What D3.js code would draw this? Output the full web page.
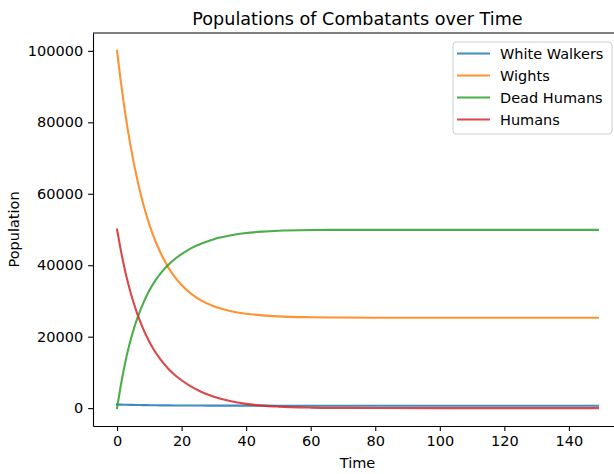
<!DOCTYPE html>
<html>
<head>
<meta charset="utf-8">
<script src="https://cdn.jsdelivr.net/npm/d3@7"></script>
<style>
  body { margin: 0; background: #fff; }
  text { font-family: "DejaVu Sans", sans-serif; fill: #000; }
  .tick text { font-size: 14.5px; }
  .tick line, .domain { stroke: #000; stroke-width: 1.1; }
</style>
</head>
<body>
<div id="chart"></div>
<script>
// Chart values
var times = [0, 1, 2, 3, 4, 5, 6, 7, 8, 9, 10, 12, 14, 16, 18, 20, 23, 26, 30, 35, 40, 45, 50, 60, 70, 80, 100, 120, 149];
var whiteWalkers = [1000, 980, 960, 940, 920, 900, 885, 870, 855, 840, 825, 800, 780, 765, 750, 740, 730, 720, 710, 700, 695, 690, 688, 685, 683, 682, 680, 680, 680];
var wights = [100000, 92550, 85850, 79800, 74400, 69500, 65100, 61100, 57550, 54350, 51450, 46500, 42500, 39200, 36600, 34450, 31980, 30170, 28500, 27200, 26420, 25970, 25690, 25440, 25350, 25320, 25300, 25300, 25300];
var deadHumans = [0, 5500, 10400, 14700, 18400, 21600, 24400, 26900, 29100, 31100, 32900, 35900, 38300, 40200, 41800, 43100, 44800, 46000, 47300, 48300, 49000, 49400, 49650, 49850, 49900, 49900, 49900, 49900, 49900];
var humans = [50000, 45000, 40500, 36500, 33000, 29900, 27100, 24600, 22400, 20400, 18600, 15500, 13000, 10900, 9200, 7800, 6000, 4600, 3200, 2000, 1200, 700, 420, 150, 60, 25, 5, 1, 0];

var seriesNames = ["White Walkers", "Wights", "Dead Humans", "Humans"];
var seriesColors = ["#1f77b4", "#ff7f0e", "#2ca02c", "#d62728"];
var seriesValues = [whiteWalkers, wights, deadHumans, humans];

var xTicks = [0, 20, 40, 60, 80, 100, 120, 140];
var yTicks = [0, 20000, 40000, 60000, 80000, 100000];

var svgWidth = 614;
var svgHeight = 474;
var margin = {top: 33, right: -8, bottom: 48, left: 93};
var width = svgWidth - margin.left - margin.right;
var height = svgHeight - margin.top - margin.bottom;

var svg = d3.select("#chart")
  .append("svg")
  .attr("width", svgWidth)
  .attr("height", svgHeight);

var chartGroup = svg.append("g")
  .attr("transform", `translate(${margin.left}, ${margin.top})`);

// matplotlib-style 5% margins round the data
var xPad = (d3.max(times) - d3.min(times)) * 0.05;
var xScale = d3.scaleLinear()
  .domain([d3.min(times) - xPad, d3.max(times) + xPad])
  .range([0, width]);

var yScale = d3.scaleLinear()
  .domain([-5000, 105000])
  .range([height, 0]);

var bottomAxis = d3.axisBottom(xScale)
  .tickValues(xTicks)
  .tickSizeInner(4.9)
  .tickSizeOuter(0)
  .tickPadding(4.9);

var leftAxis = d3.axisLeft(yScale)
  .tickValues(yTicks)
  .tickSizeInner(4.9)
  .tickSizeOuter(0)
  .tickPadding(4.9)
  .tickFormat(d3.format("d"));

// Lines
var line = d3.line()
  .x(d => xScale(d[0]))
  .y(d => yScale(d[1]))
  .curve(d3.curveMonotoneX);

seriesValues.forEach(function(vals, i) {
  chartGroup.append("path")
    .datum(times.map((t, j) => [t, vals[j]]))
    .attr("fill", "none")
    .attr("stroke", seriesColors[i])
    .attr("stroke-opacity", 0.85)
    .attr("stroke-width", 2.1)
    .attr("stroke-linecap", "square")
    .attr("d", line);
});

chartGroup.append("g")
  .attr("transform", `translate(0, ${height})`)
  .call(bottomAxis);

chartGroup.append("g")
  .call(leftAxis);

// top and right spines
chartGroup.append("line")
  .attr("x1", 0).attr("x2", width)
  .attr("y1", 0).attr("y2", 0)
  .attr("stroke", "#000").attr("stroke-width", 1.1);
chartGroup.append("line")
  .attr("x1", width).attr("x2", width)
  .attr("y1", 0).attr("y2", height)
  .attr("stroke", "#000").attr("stroke-width", 1.1);

// Title and axis labels
svg.append("text")
  .attr("x", margin.left + width / 2)
  .attr("y", 24.5)
  .attr("text-anchor", "middle")
  .style("font-size", "17.6px")
  .text("Populations of Combatants over Time");

svg.append("text")
  .attr("transform", "rotate(-90)")
  .attr("x", -(margin.top + height / 2))
  .attr("y", 19)
  .attr("text-anchor", "middle")
  .style("font-size", "14.5px")
  .text("Population");

svg.append("text")
  .attr("x", margin.left + width / 2)
  .attr("y", 468)
  .attr("text-anchor", "middle")
  .style("font-size", "14.5px")
  .text("Time");

// Legend
var legend = svg.append("g")
  .attr("transform", "translate(453, 42)");

legend.append("rect")
  .attr("width", 159)
  .attr("height", 92)
  .attr("rx", 3)
  .attr("fill", "#fff")
  .attr("fill-opacity", 0.8)
  .attr("stroke", "#ccc")
  .attr("stroke-width", 1);

seriesNames.forEach(function(name, i) {
  var row = legend.append("g")
    .attr("transform", `translate(0, ${11.5 + i * 22})`);
  row.append("line")
    .attr("x1", 4).attr("x2", 37)
    .attr("stroke", seriesColors[i])
    .attr("stroke-opacity", 0.85)
    .attr("stroke-width", 2.1);
  row.append("text")
    .attr("x", 47)
    .attr("dy", "0.36em")
    .style("font-size", "14.5px")
    .text(name);
});
</script>
</body>
</html>
